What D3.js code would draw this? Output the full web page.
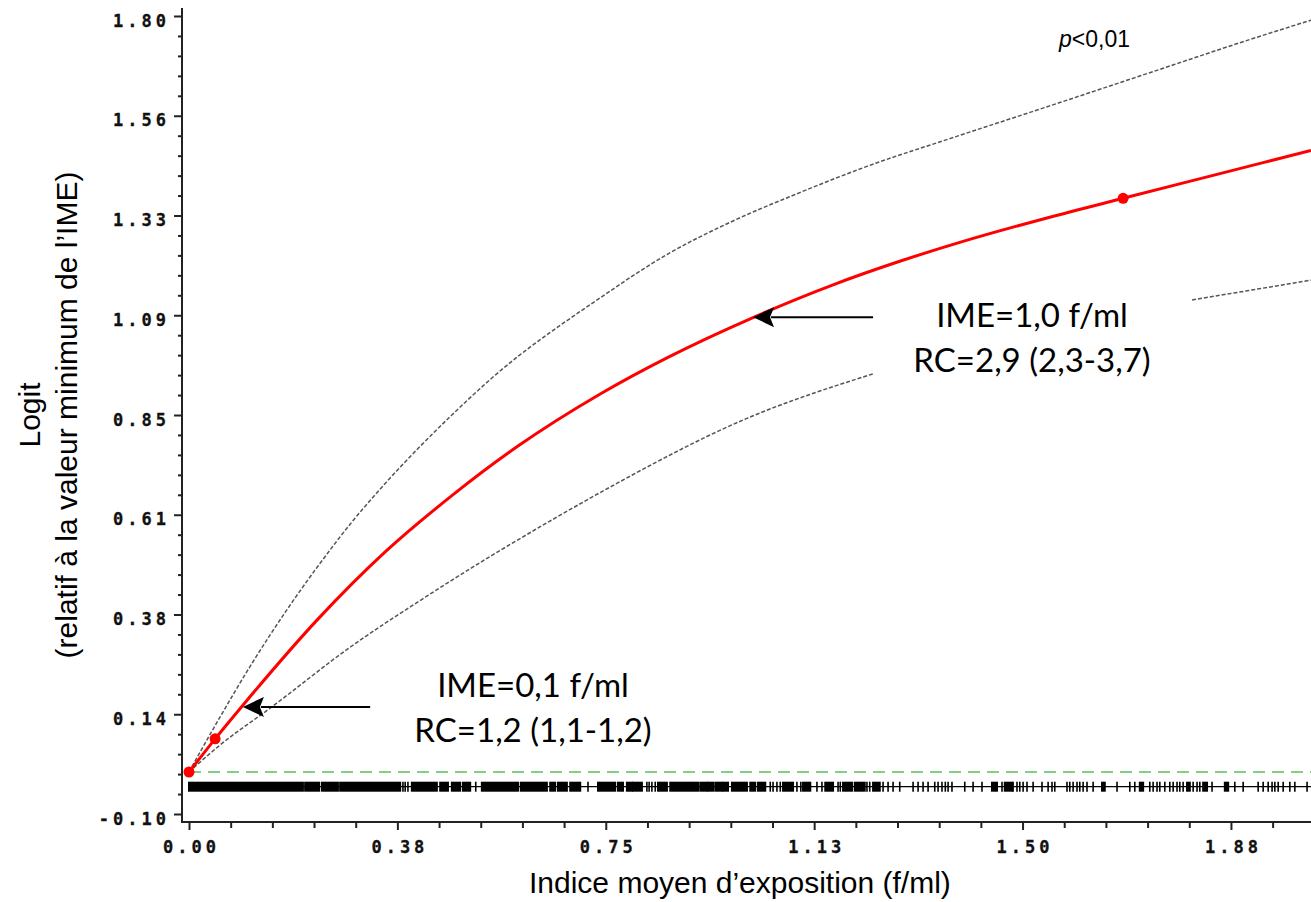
<!DOCTYPE html>
<html>
<head>
<meta charset="utf-8">
<script src="https://cdn.jsdelivr.net/npm/d3@7"></script>
<style>
body { margin: 0; background: #fff; }
svg { display: block; }
.tlab { font-family: "DejaVu Sans Mono", monospace; font-weight: bold; font-size: 17px; letter-spacing: 4px; fill: #111; stroke: #111; stroke-width: 0.3px; }
.title { font-family: "Liberation Sans", Arial, sans-serif; font-size: 30px; fill: #000; }
.note { font-family: Lato, "Open Sans", sans-serif; font-size: 33px; fill: #000; }
</style>
</head>
<body>
<svg id="chart" width="1311" height="902"></svg>
<script>
// tick values / labels
var xMajor = [0, 0.375, 0.75, 1.125, 1.5, 1.875];
var xTickLabels = ["0.00", "0.38", "0.75", "1.13", "1.50", "1.88"];
var yMajor = [-0.1, 0.1375, 0.375, 0.6125, 0.85, 1.0875, 1.325, 1.5625, 1.8];
var yTickLabels = ["-0.10", "0.14", "0.38", "0.61", "0.85", "1.09", "1.33", "1.56", "1.80"];

// fitted logit (red) and confidence band (dashed)
var fitX = [0, 0.047, 0.097, 0.232, 0.353, 0.473, 0.592, 0.740, 0.860, 1.015, 1.159, 1.279, 1.387, 1.549, 1.681, 1.850, 2.019];
var fitY = [0, 0.079, 0.159, 0.364, 0.524, 0.658, 0.776, 0.900, 0.986, 1.082, 1.160, 1.216, 1.261, 1.321, 1.366, 1.423, 1.480];
var upperX = [0, 0.052, 0.113, 0.173, 0.232, 0.293, 0.353, 0.412, 0.473, 0.545, 0.740, 0.860, 0.979, 1.100, 1.220, 1.369, 1.549, 1.729, 1.909, 2.019];
var upperY = [0, 0.122, 0.258, 0.380, 0.490, 0.595, 0.687, 0.770, 0.850, 0.938, 1.129, 1.232, 1.312, 1.380, 1.442, 1.508, 1.586, 1.665, 1.744, 1.790];
// lower band is hidden behind the text box between ~1.23 and ~1.80
var lowerX = [0, 0.052, 0.149, 0.293, 0.412, 0.533, 0.653, 0.749, 1.004, 1.231, null, 1.805, 2.019];
var lowerY = [0, 0.060, 0.155, 0.300, 0.405, 0.506, 0.600, 0.672, 0.842, 0.948, null, 1.124, 1.171];

// highlighted points on the fit
var dotX = [0, 0.047, 1.681];
var dotY = [0, 0.079, 1.366];

// rug of observed exposures: dense stretches + single ticks
var rugBlocks = [[0.000, 0.205], [0.209, 0.234], [0.239, 0.268], [0.272, 0.380], [0.401, 0.446], [0.452, 0.466],
  [0.473, 0.488], [0.493, 0.506], [0.527, 0.592], [0.597, 0.644], [0.650, 0.659], [0.664, 0.680], [0.686, 0.704],
  [0.736, 0.767], [0.772, 0.781], [0.788, 0.797], [0.799, 0.815], [0.844, 0.860], [0.866, 0.902], [0.905, 0.916],
  [0.920, 0.932], [0.934, 0.943], [0.947, 0.959], [0.961, 0.970], [0.977, 1.004], [1.010, 1.019], [1.024, 1.037],
  [1.069, 1.087], [1.105, 1.118], [1.145, 1.159], [1.177, 1.193], [1.198, 1.216], [1.231, 1.243], [1.445, 1.454],
  [1.468, 1.481], [1.643, 1.648], [1.711, 1.717], [1.796, 1.801], [1.825, 1.832], [1.864, 1.870]];
var rugTicks = [0.385, 0.389, 0.394, 0.516, 0.718, 0.824, 0.828, 0.833, 0.839, 1.046, 1.051, 1.058, 1.064,
  1.094, 1.101, 1.130, 1.139, 1.168, 1.172, 1.220, 1.225, 1.249, 1.258, 1.267, 1.279, 1.303, 1.312, 1.321, 1.330,
  1.342, 1.348, 1.355, 1.361, 1.366, 1.373, 1.396, 1.411, 1.427, 1.463, 1.483, 1.490, 1.495, 1.501, 1.508, 1.519,
  1.535, 1.546, 1.553, 1.558, 1.580, 1.585, 1.591, 1.598, 1.603, 1.609, 1.616, 1.627, 1.670, 1.693, 1.702, 1.729,
  1.735, 1.742, 1.747, 1.756, 1.765, 1.771, 1.778, 1.783, 1.789, 1.807, 1.814, 1.819, 1.841, 1.882, 1.897, 1.924,
  1.933, 1.942, 1.949, 1.954, 1.960, 1.969, 1.981, 1.990, 2.012];
var rugLevel = -0.035;

// annotations: two text lines, arrow tip on the curve, arrow tail x
var notes = [
  { l1: "IME=0,1 f/ml", l2: "RC=1,2 (1,1-1,2)", tipX: 0.097, tipY: 0.155, tailX: 0.326 },
  { l1: "IME=1,0 f/ml", l2: "RC=2,9 (2,3-3,7)", tipX: 1.015, tipY: 1.083, tailX: 1.231 }
];

var svg = d3.select("#chart");
var W = 1311, H = 902;
var axisX = 182, axisY = 822;

var x = d3.scaleLinear().domain([0, 2.25]).range([189, 189 + 2.25 * 555.7]);
var y = d3.scaleLinear().domain([-0.1, 1.8]).range([814, 16]);

function zip(a, b) { return a.map(function(v, i) { return [v, b[i]]; }); }

svg.append("defs").append("clipPath").attr("id", "plot")
  .append("rect").attr("x", axisX).attr("y", 0).attr("width", W - axisX).attr("height", axisY);

// axes
var xMinor = d3.range(0, 2.03, 0.075).filter(function(v) { return xMajor.every(function(m) { return Math.abs(m - v) > 1e-6; }); });
var yMinor = d3.range(-0.1, 1.8, 0.0475).filter(function(v) { return yMajor.every(function(m) { return Math.abs(m - v) > 1e-6; }); });

var gx = svg.append("g").attr("transform", "translate(0," + axisY + ")");
gx.append("g").call(d3.axisBottom(x).tickValues(xMinor).tickSize(6).tickFormat(""));
gx.append("g").call(d3.axisBottom(x).tickValues(xMajor).tickSize(8).tickFormat(function(d, i) { return xTickLabels[i]; }));
gx.selectAll(".domain").remove();
gx.selectAll(".tick line").attr("stroke", "#222").attr("stroke-width", 2);
gx.selectAll(".tick text").attr("class", "tlab").attr("y", 31).attr("dy", 0).attr("dx", 2).attr("font-family", null).attr("font-size", null);
gx.append("line").attr("x1", axisX).attr("x2", W).attr("stroke", "#222").attr("stroke-width", 2);

var gy = svg.append("g").attr("transform", "translate(" + axisX + ",0)");
gy.append("g").call(d3.axisLeft(y).tickValues(yMinor).tickSize(4).tickFormat(""));
gy.append("g").call(d3.axisLeft(y).tickValues(yMajor).tickSize(8).tickFormat(function(d, i) { return yTickLabels[i]; }));
gy.selectAll(".domain").remove();
gy.selectAll(".tick line").attr("stroke", "#222").attr("stroke-width", 2);
gy.selectAll(".tick text").attr("class", "tlab").attr("x", -16).attr("dy", 10).attr("dx", 4).attr("font-family", null).attr("font-size", null);
gy.append("line").attr("y1", 8).attr("y2", axisY + 1).attr("stroke", "#222").attr("stroke-width", 2);

var plot = svg.append("g").attr("clip-path", "url(#plot)");

// reference line at 0
plot.append("line")
  .attr("x1", x(0)).attr("x2", W).attr("y1", y(0)).attr("y2", y(0))
  .attr("stroke", "#5cbf5c").attr("stroke-width", 1.7).attr("stroke-dasharray", "12,7");

// rug
var ry = y(rugLevel);
plot.append("line").attr("x1", x(0)).attr("x2", W).attr("y1", ry).attr("y2", ry).attr("stroke", "#000").attr("stroke-width", 1.2);
plot.selectAll("rect.rug").data(rugBlocks).enter().append("rect")
  .attr("class", "rug")
  .attr("x", function(d) { return x(d[0]) - 1; })
  .attr("width", function(d) { return x(d[1]) - x(d[0]) + 2; })
  .attr("y", ry - 5).attr("height", 10).attr("fill", "#000");
plot.selectAll("line.rugt").data(rugTicks).enter().append("line")
  .attr("class", "rugt")
  .attr("x1", function(d) { return x(d); }).attr("x2", function(d) { return x(d); })
  .attr("y1", ry - 5).attr("y2", ry + 5).attr("stroke", "#000").attr("stroke-width", 1.6);

var line = d3.line()
  .defined(function(d) { return d[0] !== null; })
  .x(function(d) { return x(d[0]); })
  .y(function(d) { return y(d[1]); })
  .curve(d3.curveMonotoneX);

plot.append("path").datum(zip(upperX, upperY)).attr("d", line)
  .attr("fill", "none").attr("stroke", "#555").attr("stroke-width", 1.5).attr("stroke-dasharray", "4,2");
plot.append("path").datum(zip(lowerX, lowerY)).attr("d", line)
  .attr("fill", "none").attr("stroke", "#555").attr("stroke-width", 1.5).attr("stroke-dasharray", "4,2");
plot.append("path").datum(zip(fitX, fitY)).attr("d", line)
  .attr("fill", "none").attr("stroke", "#ff0000").attr("stroke-width", 3);

plot.selectAll("circle.dot").data(zip(dotX, dotY)).enter().append("circle")
  .attr("class", "dot")
  .attr("cx", function(d) { return x(d[0]); })
  .attr("cy", function(d) { return y(d[1]); })
  .attr("r", 5.5).attr("fill", "#ff0000");

// annotations
var noteLayout = [{ cx: 533, b1: 697, b2: 742 }, { cx: 1032, b1: 327, b2: 372 }];
notes.forEach(function(n, i) {
  var tx = x(n.tipX), ty = y(n.tipY), lx = x(n.tailX);
  svg.append("line").attr("x1", tx + 18).attr("x2", lx).attr("y1", ty).attr("y2", ty)
    .attr("stroke", "#000").attr("stroke-width", 2);
  svg.append("path")
    .attr("d", "M" + tx + "," + ty + "L" + (tx + 21) + "," + (ty - 10) + "L" + (tx + 17) + "," + ty + "L" + (tx + 21) + "," + (ty + 10) + "Z")
    .attr("fill", "#000");
  svg.append("text").attr("class", "note").attr("x", noteLayout[i].cx).attr("y", noteLayout[i].b1)
    .attr("text-anchor", "middle").text(n.l1);
  svg.append("text").attr("class", "note").attr("x", noteLayout[i].cx).attr("y", noteLayout[i].b2)
    .attr("text-anchor", "middle").text(n.l2);
});

// p value
var pv = svg.append("text").attr("x", 1059).attr("y", 47)
  .attr("font-family", "'Liberation Sans', Arial, sans-serif").attr("font-size", 23);
pv.append("tspan").attr("font-style", "italic").text("p");
pv.append("tspan").text("<0,01");

// axis titles
svg.append("text").attr("class", "title").attr("x", 529).attr("y", 893)
  .text("Indice moyen d\u2019exposition (f/ml)");
svg.append("text").attr("class", "title").attr("transform", "translate(40,415) rotate(-90)")
  .attr("text-anchor", "middle").text("Logit");
svg.append("text").attr("class", "title").attr("transform", "translate(77,415) rotate(-90)")
  .attr("text-anchor", "middle").text("(relatif \u00e0 la valeur minimum de l\u2019IME)");
</script>
</body>
</html>
